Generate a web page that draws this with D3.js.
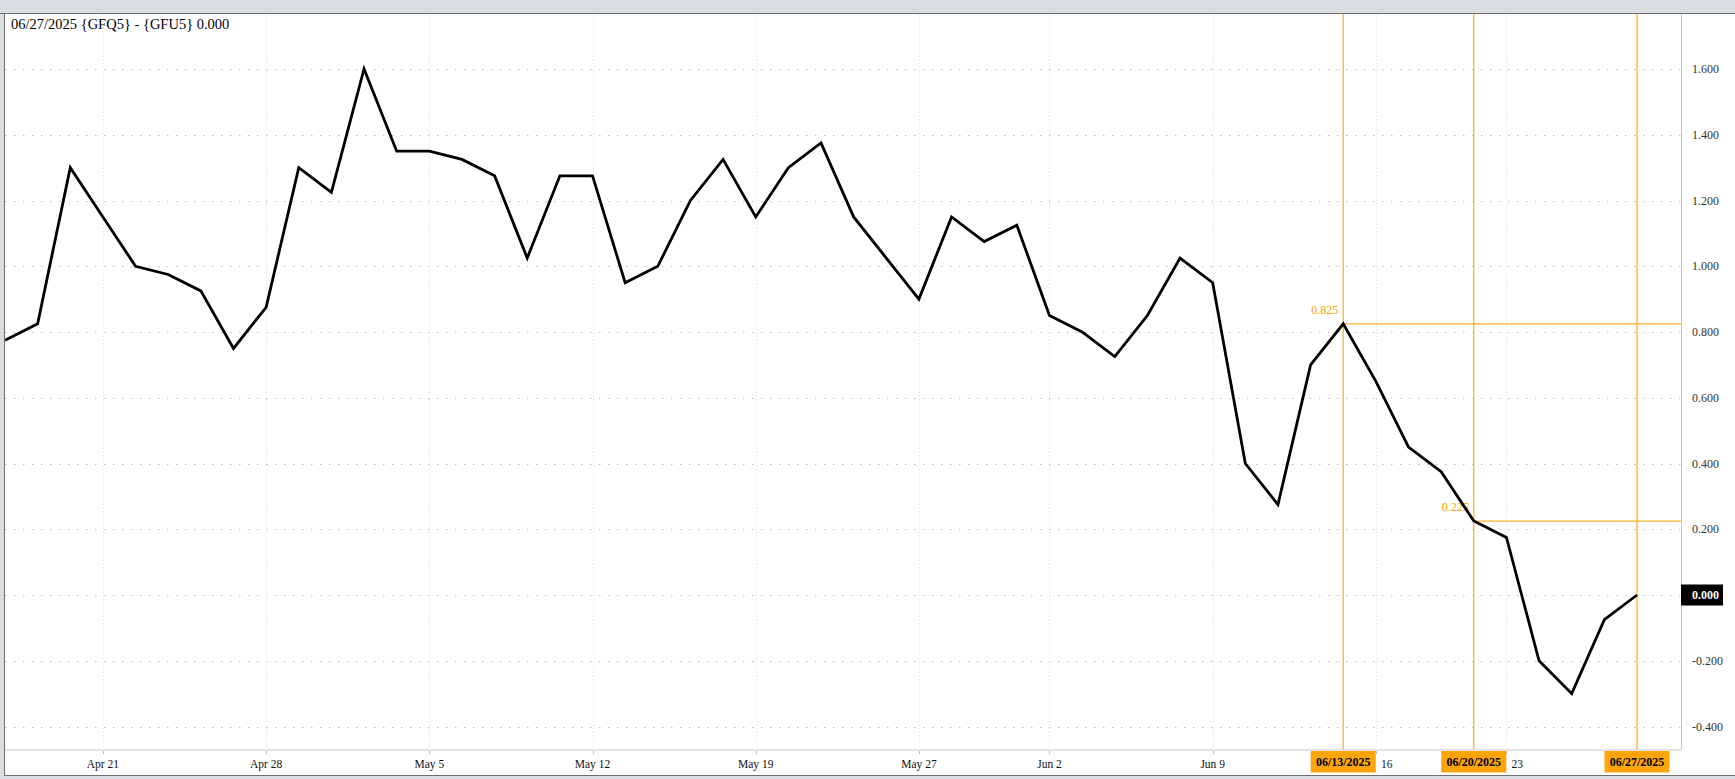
<!DOCTYPE html>
<html><head><meta charset="utf-8">
<script src="https://cdn.jsdelivr.net/npm/d3@7"></script>
<style>html,body{margin:0;padding:0;background:#dadde0;overflow:hidden}svg{display:block}</style>
</head><body><svg id="c" width="1735" height="779"></svg>
<script>
const title = "06/27/2025 {GFQ5} - {GFU5} 0.000";
const dates = ["2025-04-15","2025-04-16","2025-04-17","2025-04-21","2025-04-22","2025-04-23","2025-04-24","2025-04-25",
"2025-04-28","2025-04-29","2025-04-30","2025-05-01","2025-05-02","2025-05-05","2025-05-06","2025-05-07","2025-05-08","2025-05-09",
"2025-05-12","2025-05-13","2025-05-14","2025-05-15","2025-05-16","2025-05-19","2025-05-20","2025-05-21","2025-05-22","2025-05-23",
"2025-05-27","2025-05-28","2025-05-29","2025-05-30","2025-06-02","2025-06-03","2025-06-04","2025-06-05","2025-06-06",
"2025-06-09","2025-06-10","2025-06-11","2025-06-12","2025-06-13","2025-06-16","2025-06-17","2025-06-18","2025-06-20",
"2025-06-23","2025-06-24","2025-06-25","2025-06-26","2025-06-27"];
const values = [0.775,0.825,1.300,1.150,1.000,0.975,0.925,0.750,
0.875,1.300,1.225,1.600,1.350,1.350,1.325,1.275,1.025,1.275,
1.275,0.950,1.000,1.200,1.325,1.150,1.300,1.375,1.150,1.025,
0.900,1.150,1.075,1.125,0.850,0.800,0.725,0.850,1.025,
0.950,0.400,0.275,0.700,0.825,0.650,0.450,0.375,0.225,
0.175,-0.200,-0.300,-0.075,0.000];
const tickDates = ["2025-04-21","2025-04-28","2025-05-05","2025-05-12","2025-05-19","2025-05-27","2025-06-02","2025-06-09","2025-06-16","2025-06-23"];
const tickLabels = ["Apr 21","Apr 28","May 5","May 12","May 19","May 27","Jun 2","Jun 9","16","23"];
const yTicks = [-0.4,-0.2,0,0.2,0.4,0.6,0.8,1.0,1.2,1.4,1.6];
const markerDates = ["2025-06-13","2025-06-20","2025-06-27"];
const markerLabels = ["06/13/2025","06/20/2025","06/27/2025"];
const levelDates = ["2025-06-13","2025-06-20"];
const lastValue = 0.000;

const W = 1735, H = 779;
const plot = {left: 5, top: 14, right: 1681, bottom: 749.5};
const FONT = "'Liberation Serif', 'DejaVu Serif', serif";
const ORANGE = "#ffa50a";

const svg = d3.select("#c");
const x = d3.scalePoint().domain(dates).range([5, 1637]);
const y = d3.scaleLinear().domain([0, 1.6]).range([595, 69]);
const valueAt = d => values[dates.indexOf(d)];

// background + frame
svg.append("rect").attr("width", W).attr("height", H).attr("fill", "#dadde0");
svg.append("rect").attr("x", 5).attr("y", 14).attr("width", W - 5).attr("height", 761.5).attr("fill", "#fff");
svg.append("line").attr("x1", 0).attr("x2", W).attr("y1", 13.5).attr("y2", 13.5).attr("stroke", "#6e6e6e");
svg.append("line").attr("x1", 4.5).attr("x2", 4.5).attr("y1", 13.5).attr("y2", 776).attr("stroke", "#6e6e6e");
svg.append("line").attr("x1", 4.5).attr("x2", W).attr("y1", 775.5).attr("y2", 775.5).attr("stroke", "#6e6e6e");

// grid
const g = svg.append("g");
g.selectAll(".hg").data(yTicks).join("line")
  .attr("x1", plot.left).attr("x2", plot.right)
  .attr("y1", d => Math.round(y(d)) + 0.5).attr("y2", d => Math.round(y(d)) + 0.5)
  .attr("stroke", "#bcbcbc").attr("stroke-dasharray", "1.5,7.5");
g.selectAll(".vg").data(tickDates).join("line")
  .attr("x1", d => Math.round(x(d)) + 0.5).attr("x2", d => Math.round(x(d)) + 0.5)
  .attr("y1", plot.top).attr("y2", plot.bottom)
  .attr("stroke", "#dcdcdc").attr("stroke-dasharray", "1,2.5");

// plot borders
svg.append("line").attr("x1", plot.right + 0.5).attr("x2", plot.right + 0.5).attr("y1", 14).attr("y2", 750.5).attr("stroke", "#c8c8c8");
svg.append("line").attr("x1", 5).attr("x2", plot.right + 1).attr("y1", 750).attr("y2", 750).attr("stroke", "#e3e3e3").attr("stroke-width", 2);

// x ticks
svg.selectAll(".xt").data(tickDates).join("line")
  .attr("x1", d => Math.round(x(d)) + 0.5).attr("x2", d => Math.round(x(d)) + 0.5)
  .attr("y1", 751).attr("y2", 754).attr("stroke", "#bdbdbd");
const markerX = markerDates.map(d => x(d));
const nearMarker = d => markerX.some(m => Math.abs(m - x(d)) < 45);
svg.selectAll(".xl").data(tickDates).join("text")
  .attr("x", d => nearMarker(d) ? x(d) + 5 : x(d))
  .attr("y", 768)
  .attr("text-anchor", d => nearMarker(d) ? "start" : "middle")
  .attr("font-family", FONT).attr("font-size", 11.5).attr("fill", "#111")
  .text((d, i) => tickLabels[i]);

// clip
svg.append("clipPath").attr("id", "clip").append("rect")
  .attr("x", plot.left).attr("y", plot.top).attr("width", plot.right - plot.left).attr("height", plot.bottom - plot.top);

// marker vertical lines
svg.selectAll(".mv").data(markerDates).join("line")
  .attr("x1", d => x(d)).attr("x2", d => x(d))
  .attr("y1", plot.top).attr("y2", plot.bottom)
  .attr("stroke", ORANGE).attr("stroke-width", 1.3).attr("opacity", 0.85);

// level lines
svg.selectAll(".lv").data(levelDates).join("line")
  .attr("x1", d => x(d)).attr("x2", plot.right)
  .attr("y1", d => y(valueAt(d))).attr("y2", d => y(valueAt(d)))
  .attr("stroke", ORANGE).attr("stroke-width", 1.3).attr("opacity", 0.85);
svg.selectAll(".ll").data(levelDates).join("text")
  .attr("x", d => x(d) - 5).attr("y", d => y(valueAt(d)) - 10)
  .attr("text-anchor", "end").attr("font-family", FONT).attr("font-size", 12)
  .attr("fill", "#ffa200").text(d => d3.format(".3f")(valueAt(d)));

// series line
const line = d3.line().x((d, i) => x(dates[i])).y(d => y(d));
svg.append("path").datum(values).attr("clip-path", "url(#clip)")
  .attr("d", line).attr("fill", "none").attr("stroke", "#000")
  .attr("stroke-width", 2.8).attr("stroke-linejoin", "miter");

// y labels
svg.selectAll(".yl").data(yTicks).join("text")
  .attr("x", 1692).attr("y", d => y(d) + 4)
  .attr("font-family", FONT).attr("font-size", 12).attr("fill", "#333")
  .text(d => d3.format(".3f")(d).replace("−", "-"));

// last value box
svg.append("rect").attr("x", plot.right).attr("y", y(lastValue) - 10.5).attr("width", 42).attr("height", 21).attr("fill", "#000");
svg.append("text").attr("x", 1692).attr("y", y(lastValue) + 4)
  .attr("font-family", FONT).attr("font-size", 12).attr("font-weight", "bold").attr("fill", "#fff")
  .text(d3.format(".3f")(lastValue));

// date badges
const badges = svg.selectAll(".bd").data(markerDates).join("g");
badges.append("rect").attr("x", d => x(d) - 32.5).attr("y", 751).attr("width", 65).attr("height", 21.5).attr("fill", ORANGE);
badges.append("text").attr("x", d => x(d)).attr("y", 765.5).attr("text-anchor", "middle")
  .attr("font-family", FONT).attr("font-size", 12).attr("font-weight", "bold").attr("fill", "#000")
  .text((d, i) => markerLabels[i]);

// title
svg.append("text").attr("x", 11).attr("y", 29).attr("font-family", FONT).attr("font-size", 14.5).attr("fill", "#000").text(title);
</script>
</body></html>
